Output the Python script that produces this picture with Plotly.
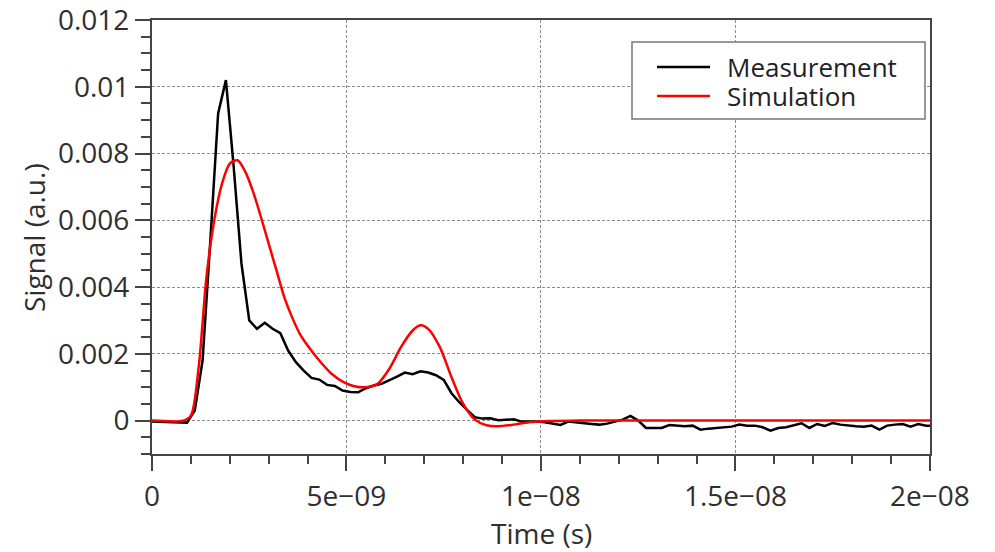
import plotly.graph_objects as go

# Measurement (time in ns, signal in units of 1e-3 a.u.)
t_meas_ns = [-0.1, 0.1, 0.3, 0.5, 0.7, 0.9, 1.1, 1.3, 1.5, 1.7, 1.9, 2.1, 2.3, 2.5, 2.7, 2.9,
             3.1, 3.3, 3.5, 3.7, 3.9, 4.1, 4.3, 4.5, 4.7, 4.9, 5.1, 5.3, 5.5, 5.7, 5.9,
             6.1, 6.3, 6.5, 6.7, 6.9, 7.1, 7.3, 7.5, 7.7, 7.9, 8.1, 8.3, 8.5, 8.7, 8.9,
             9.1, 9.3, 9.5, 9.7, 9.9, 10.1, 10.3, 10.5, 10.7, 10.9, 11.1, 11.3, 11.5, 11.7, 11.9,
             12.1, 12.3, 12.5, 12.7, 12.9, 13.1, 13.3, 13.5, 13.7, 13.9, 14.1, 14.3, 14.5, 14.7, 14.9,
             15.1, 15.3, 15.5, 15.7, 15.9, 16.1, 16.3, 16.5, 16.7, 16.9, 17.1, 17.3, 17.5, 17.7, 17.9,
             18.1, 18.3, 18.5, 18.7, 18.9, 19.1, 19.3, 19.5, 19.7, 19.9, 20.1]
y_meas_milli = [-0.02, -0.03, -0.04, -0.05, -0.07, -0.06, 0.30, 1.80, 5.40, 9.20, 10.20, 7.60, 4.70, 3.00, 2.75, 2.93,
                2.75, 2.62, 2.10, 1.75, 1.50, 1.28, 1.23, 1.07, 1.04, 0.90, 0.86, 0.85, 0.97, 1.05, 1.10,
                1.20, 1.32, 1.44, 1.39, 1.48, 1.44, 1.36, 1.22, 0.82, 0.55, 0.32, 0.10, 0.06, 0.07, 0.01,
                0.03, 0.04, -0.03, -0.02, -0.03, -0.05, -0.10, -0.13, -0.03, -0.06, -0.08, -0.10, -0.12, -0.09, -0.03,
                0.03, 0.14, 0.00, -0.22, -0.22, -0.22, -0.13, -0.14, -0.17, -0.15, -0.27, -0.24, -0.22, -0.21, -0.18,
                -0.12, -0.15, -0.15, -0.20, -0.30, -0.22, -0.20, -0.15, -0.08, -0.22, -0.10, -0.16, -0.07, -0.12, -0.15,
                -0.17, -0.18, -0.15, -0.27, -0.15, -0.12, -0.10, -0.18, -0.10, -0.15, -0.15]

# Simulation
t_sim_ns = [0.0, 0.8, 1.0, 1.2, 1.4, 1.6, 1.8, 2.0, 2.2, 2.4, 2.6, 2.8, 3.0, 3.2, 3.4, 3.6, 3.8, 4.0,
            4.3, 4.6, 4.9, 5.2, 5.5, 5.8, 6.1, 6.4, 6.7, 6.9, 7.1, 7.4, 7.7, 8.0, 8.3, 8.6, 8.9,
            9.3, 9.7, 10.2, 11.0, 20.0]
y_sim_milli = [0.0, 0.0, 0.15, 1.6, 4.3, 6.0, 7.1, 7.7, 7.8, 7.45, 6.85, 6.1, 5.3, 4.5, 3.7, 3.1, 2.6, 2.25,
               1.8, 1.42, 1.17, 1.03, 1.0, 1.1, 1.55, 2.2, 2.7, 2.86, 2.75, 2.2, 1.3, 0.5, 0.03, -0.14, -0.17,
               -0.12, -0.05, -0.01, 0.0, 0.0]

series_names = ["Measurement", "Simulation"]
series_colors = ["black", "red"]

x_tickvals = [0, 5e-9, 1e-8, 1.5e-8, 2e-8]
x_ticktext = ["0", "5e\u221209", "1e\u221208", "1.5e\u221208", "2e\u221208"]
y_tickvals = [0, 0.002, 0.004, 0.006, 0.008, 0.01, 0.012]
y_ticktext = ["0", "0.002", "0.004", "0.006", "0.008", "0.01", "0.012"]

FONT = "Open Sans"
TXT = "#2f2f2f"
FS = 28

W, H = 995, 552
ML, MR, MT, MB = 152, 65, 20, 98
PW, PH = W - ML - MR, H - MT - MB


def px(xp):
    return (xp - ML) / PW


def py(yp):
    return (H - MB - yp) / PH


fig = go.Figure()
fig.add_trace(go.Scatter(
    x=[t * 1e-9 for t in t_meas_ns], y=[v * 1e-3 for v in y_meas_milli],
    mode="lines", name=series_names[0], showlegend=False,
    line=dict(color=series_colors[0], width=2.5)))
fig.add_trace(go.Scatter(
    x=[t * 1e-9 for t in t_sim_ns], y=[v * 1e-3 for v in y_sim_milli],
    mode="lines", name=series_names[1], showlegend=False,
    line=dict(color=series_colors[1], width=2.5, shape="spline", smoothing=0.8)))

# legend box (drawn manually to match the reference's layout)
shapes = [dict(type="rect", xref="paper", yref="paper",
               x0=px(632), x1=px(925), y0=py(119), y1=py(42),
               line=dict(color="#777777", width=1.5), fillcolor="white", layer="above")]
annotations = []
for i, (nm, col) in enumerate(zip(series_names, series_colors)):
    yrow = 67 + 29 * i
    shapes.append(dict(type="line", xref="paper", yref="paper",
                       x0=px(657), x1=px(710), y0=py(yrow), y1=py(yrow),
                       line=dict(color=col, width=2.5), layer="above"))
    annotations.append(dict(text=nm, xref="paper", yref="paper", x=px(726), y=py(yrow),
                            xanchor="left", yanchor="middle", showarrow=False, borderpad=0,
                            font=dict(family=FONT, size=26, color="#222222")))

# axis titles
annotations.append(dict(text="Time (s)", xref="paper", yref="paper", x=px(541), y=py(533),
                        xanchor="center", yanchor="middle", showarrow=False, borderpad=0,
                        font=dict(family=FONT, size=FS, color=TXT)))
annotations.append(dict(text="Signal (a.u.)", xref="paper", yref="paper", x=px(34), y=py(238),
                        xanchor="center", yanchor="middle", showarrow=False, textangle=-90, borderpad=0,
                        font=dict(family=FONT, size=FS, color=TXT)))

fig.update_layout(
    width=W, height=H,
    margin=dict(l=ML, r=MR, t=MT, b=MB),
    plot_bgcolor="white", paper_bgcolor="white",
    font=dict(family=FONT, size=FS, color=TXT),
    showlegend=False,
    shapes=shapes, annotations=annotations,
)
fig.update_xaxes(
    range=[0, 2.0001e-8], tickvals=x_tickvals, ticktext=x_ticktext, automargin=False,
    ticks="outside", ticklen=15, tickwidth=1.5, tickcolor="#444",
    minor=dict(dtick=1e-9, tick0=0, ticks="outside", ticklen=8, tickwidth=1.5, tickcolor="#444", showgrid=False),
    showline=True, linecolor="#444", linewidth=2, mirror=True,
    showgrid=True, gridcolor="#8c8c8c", gridwidth=1, griddash="3px,2px",
    zeroline=False, ticklabelstandoff=1, ticklabeloverflow="allow",
    tickfont=dict(family=FONT, size=FS, color=TXT),
)
fig.update_yaxes(
    range=[-0.001, 0.012001], tickvals=y_tickvals, ticktext=y_ticktext, automargin=False,
    ticks="outside", ticklen=15, tickwidth=1.5, tickcolor="#444",
    minor=dict(dtick=0.0005, tick0=0, ticks="outside", ticklen=9, tickwidth=1.5, tickcolor="#444", showgrid=False),
    showline=True, linecolor="#444", linewidth=2, mirror=True,
    showgrid=True, gridcolor="#8c8c8c", gridwidth=1, griddash="3px,2px",
    zeroline=False, ticklabelstandoff=0, ticklabeloverflow="allow",
    tickfont=dict(family=FONT, size=FS, color=TXT),
)

fig.write_html("out.html")
